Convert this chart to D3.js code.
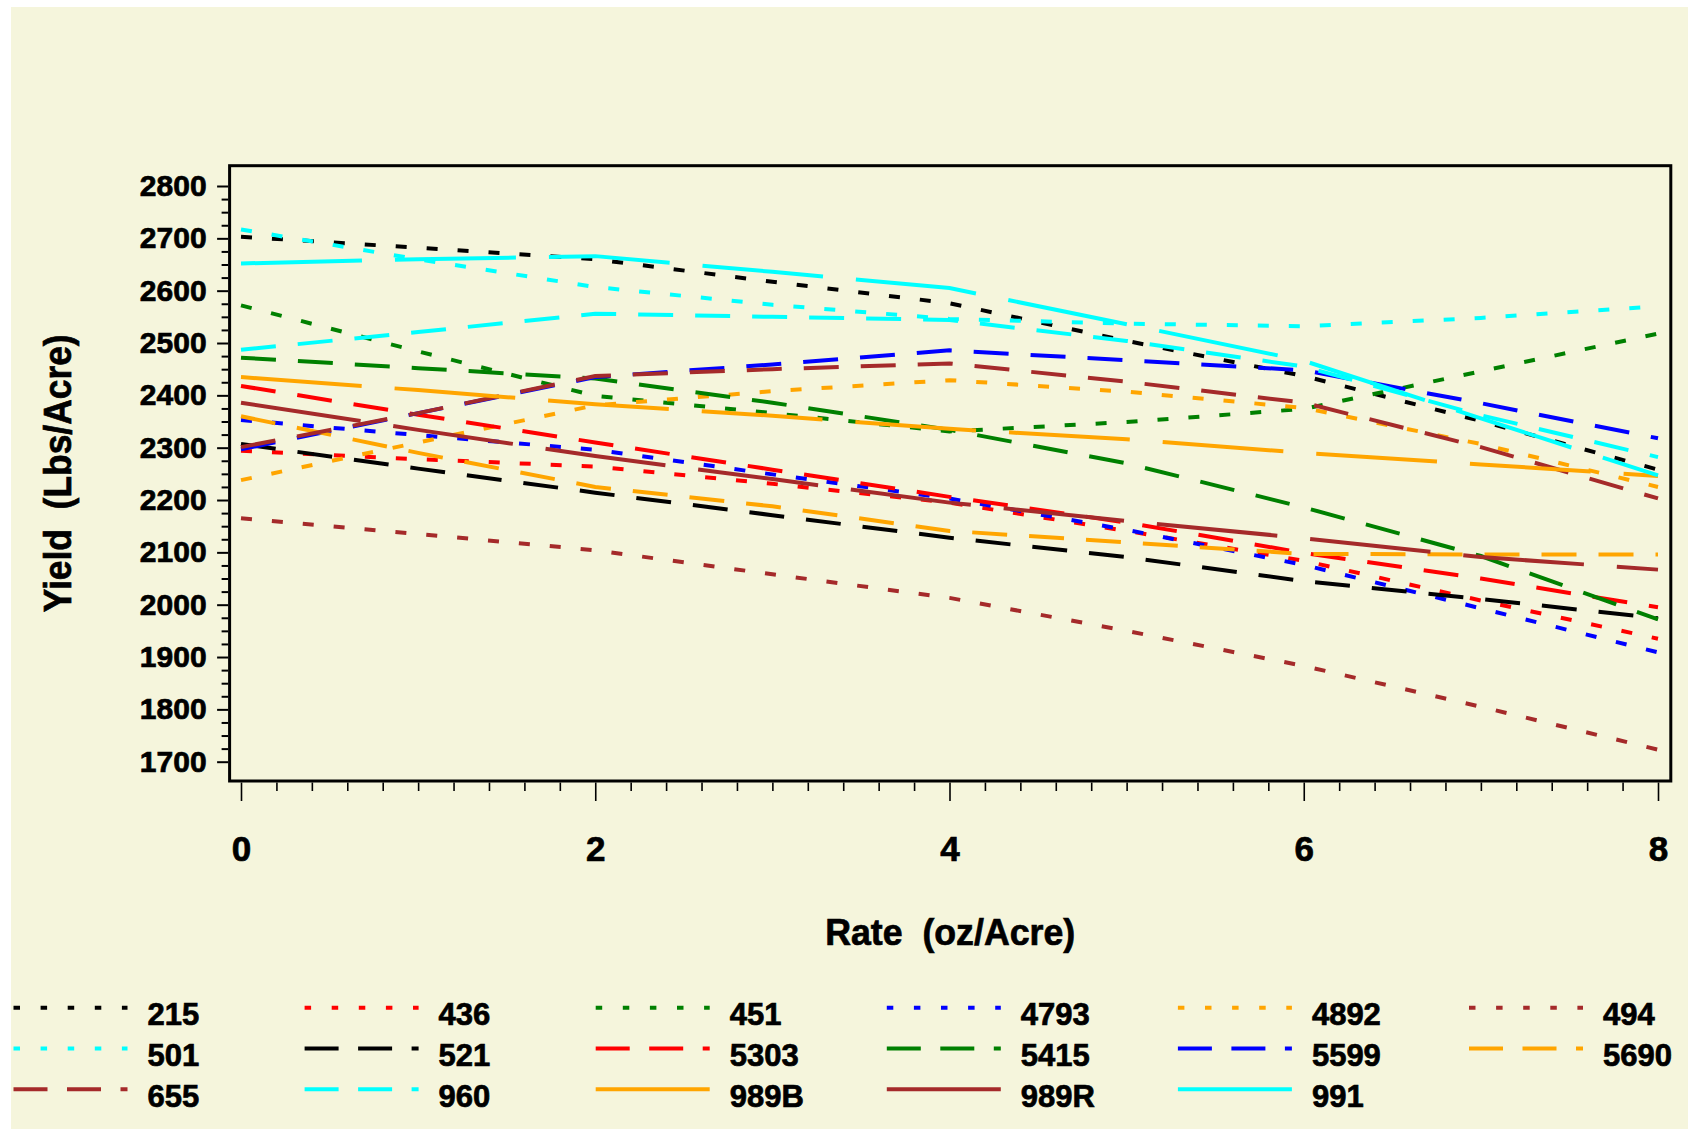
<!DOCTYPE html>
<html>
<head>
<meta charset="utf-8">
<script src="https://cdn.jsdelivr.net/npm/d3@7"></script>
<style>
  body { margin: 0; background: #fff; }
  text { font-family: "Liberation Sans", Arial, sans-serif; font-weight: bold; fill: #000;
         stroke: #000; stroke-width: 0.7px; white-space: pre; }
</style>
</head>
<body>
<div id="graph"></div>
<script>
// rates on the x axis (oz/Acre)
var rates = [0, 1, 2, 3, 4, 5, 6, 7, 8];

// yield (Lbs/Acre) per hybrid at each rate
var yield215  = [2703, 2682, 2660, 2617, 2576, 2504, 2437, 2351, 2258];
var yield436  = [2294, 2278, 2264, 2231, 2195, 2141, 2084, 2008, 1935];
var yield451  = [2572, 2484, 2399, 2366, 2331, 2349, 2374, 2446, 2518];
var yield4793 = [2353, 2324, 2296, 2249, 2203, 2143, 2076, 1993, 1909];
var yield4892 = [2238, 2310, 2381, 2408, 2429, 2407, 2376, 2307, 2225];
var yield494  = [2165, 2135, 2104, 2058, 2013, 1950, 1883, 1805, 1723];
var yield501  = [2717, 2660, 2607, 2573, 2546, 2537, 2532, 2548, 2570];
var yield521  = [2307, 2260, 2214, 2171, 2128, 2091, 2045, 2011, 1974];
var yield5303 = [2418, 2363, 2310, 2258, 2206, 2157, 2099, 2050, 1995];
var yield5415 = [2472, 2452, 2432, 2386, 2334, 2270, 2186, 2093, 1972];
var yield5599 = [2297, 2366, 2435, 2459, 2486, 2467, 2448, 2385, 2318];
var yield5690 = [2360, 2290, 2225, 2188, 2141, 2119, 2097, 2096, 2096];
var yield655  = [2301, 2366, 2437, 2450, 2461, 2426, 2386, 2301, 2203];
var yield960  = [2487, 2521, 2556, 2550, 2544, 2504, 2455, 2362, 2282];
var yield989B = [2435, 2410, 2383, 2361, 2336, 2316, 2290, 2268, 2246];
var yield989R = [2386, 2334, 2284, 2240, 2195, 2160, 2127, 2091, 2067];
var yield991  = [2652, 2660, 2666, 2636, 2605, 2536, 2466, 2356, 2247];

var hybrids = ["215","436","451","4793","4892","494","501","521","5303","5415","5599","5690","655","960","989B","989R","991"];
var yields  = [yield215, yield436, yield451, yield4793, yield4892, yield494, yield501, yield521,
               yield5303, yield5415, yield5599, yield5690, yield655, yield960, yield989B, yield989R, yield991];

var yTicks = d3.range(1700, 2801, 100);
var xTicks = [0, 2, 4, 6, 8];

// styles
var colors = ["black","red","green","blue","orange","brown","cyan","black","red","green","blue","orange","brown","cyan","orange","brown","cyan"];
var kinds  = ["dot","dot","dot","dot","dot","dot","dot","dash","dash","dash","dash","dash","dash","dash","solid","solid","solid"];
var lineDash   = {dot: "11,20", dash: "35,22", solid: "121,33"};
var legendDash = {dot: "6.5,20.6", dash: "34,19.5", solid: null};

var W = 1688, H = 1129;
var frame = {left: 229.6, right: 1670.8, top: 165.7, bottom: 781};

var svg = d3.select("#graph").append("svg")
    .attr("width", W)
    .attr("height", H);

svg.append("rect").attr("x", 11).attr("y", 7)
    .attr("width", W - 11).attr("height", H - 7)
    .attr("fill", "#f5f5dc");

var x = d3.scaleLinear().domain([0, 8]).range([241, 1658]);
var y = d3.scaleLinear().domain([1700, 2800]).range([761.7, 186]);

// axes
var xMinor = d3.range(0, 8.001, 0.2).filter(function(d){ return Math.abs(d/2 - Math.round(d/2)) > 0.01; });
svg.append("g").attr("transform", "translate(0," + (frame.bottom + 1.5) + ")")
    .call(d3.axisBottom(x).tickValues(xMinor).tickSize(8.5).tickFormat(""))
    .call(function(g){ g.select(".domain").remove(); g.selectAll("line").attr("stroke-width", 1.6); });

var gx = svg.append("g").attr("transform", "translate(0," + (frame.bottom + 1.5) + ")")
    .call(d3.axisBottom(x).tickValues(xTicks).tickSize(18.5).tickFormat(d3.format("d")))
    .call(function(g){ g.select(".domain").remove(); g.selectAll("line").attr("stroke-width", 1.6); });
gx.selectAll("text")
    .attr("y", 861 - frame.bottom - 1.5).attr("dy", null)
    .attr("font-size", 35).attr("font-family", null).attr("fill", null);

var yMinor = d3.range(1700, 2801, 25).filter(function(d){ return d % 100 !== 0; });
svg.append("g").attr("transform", "translate(" + (frame.left - 1.5) + ",0)")
    .call(d3.axisLeft(y).tickValues(yMinor).tickSize(6.5).tickFormat(""))
    .call(function(g){ g.select(".domain").remove(); g.selectAll("line").attr("stroke-width", 2); });

var gy = svg.append("g").attr("transform", "translate(" + (frame.left - 1.5) + ",0)")
    .call(d3.axisLeft(y).tickValues(yTicks).tickSize(11).tickFormat(d3.format("d")))
    .call(function(g){ g.select(".domain").remove(); g.selectAll("line").attr("stroke-width", 2); });
gy.selectAll("text")
    .attr("x", 206.6 - frame.left + 1.5)
    .attr("font-size", 30).attr("font-family", null).attr("fill", null);

// series
var line = d3.line()
    .x(function(d){ return x(d.r); })
    .y(function(d){ return y(d.v); });

svg.append("g").selectAll("path")
    .data(hybrids)
    .enter().append("path")
    .attr("d", function(h, i){ return line(rates.map(function(r, j){ return {r: r, v: yields[i][j]}; })); })
    .attr("fill", "none")
    .attr("stroke", function(h, i){ return colors[i]; })
    .attr("stroke-width", 4)
    .attr("stroke-dasharray", function(h, i){ return lineDash[kinds[i]]; });

// frame
svg.append("rect")
    .attr("x", frame.left).attr("y", frame.top)
    .attr("width", frame.right - frame.left).attr("height", frame.bottom - frame.top)
    .attr("fill", "none").attr("stroke", "#000").attr("stroke-width", 3);

// axis titles
svg.append("text")
    .attr("x", (frame.left + frame.right) / 2).attr("y", 945)
    .attr("text-anchor", "middle").attr("font-size", 37)
    .attr("textLength", 250).attr("lengthAdjust", "spacingAndGlyphs")
    .text("Rate  (oz/Acre)");

svg.append("text")
    .attr("transform", "translate(71," + ((frame.top + frame.bottom) / 2) + ") rotate(-90)")
    .attr("text-anchor", "middle").attr("font-size", 38)
    .attr("textLength", 278).attr("lengthAdjust", "spacingAndGlyphs")
    .text("Yield  (Lbs/Acre)");

// legend
var legend = svg.append("g").selectAll("g")
    .data(hybrids)
    .enter().append("g")
    .attr("transform", function(h, i){
        return "translate(" + (13.5 + (i % 6) * 291.1) + "," + (1007.7 + Math.floor(i / 6) * 40.8) + ")";
    });

legend.append("line")
    .attr("x1", 0).attr("x2", 114).attr("y1", 0).attr("y2", 0)
    .attr("stroke", function(h, i){ return colors[i]; })
    .attr("stroke-width", 4)
    .attr("stroke-dasharray", function(h, i){ return legendDash[kinds[i]]; });

legend.append("text")
    .attr("x", 134).attr("y", 17.5)
    .attr("font-size", 31)
    .text(function(h){ return h; });
</script>
</body>
</html>
